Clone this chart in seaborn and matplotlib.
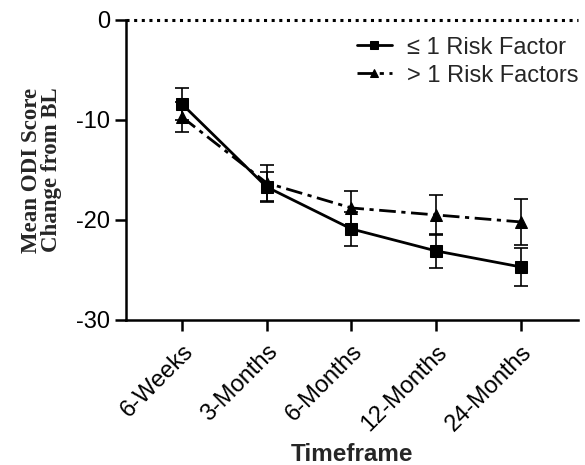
import matplotlib
matplotlib.use("Agg")
import matplotlib.pyplot as plt
import seaborn as sns
import pandas as pd
import numpy as np

timepoints = ["6-Weeks", "3-Months", "6-Months", "12-Months", "24-Months"]
low_mean = [-8.4, -16.7, -20.9, -23.1, -24.7]
low_err = [1.6, 1.5, 1.7, 1.7, 1.9]
high_mean = [-9.7, -16.3, -18.8, -19.5, -20.2]
high_err = [1.5, 1.8, 1.7, 2.0, 2.3]
labels = ["\u2264 1 Risk Factor", "> 1 Risk Factors"]

sns.set_theme(style="ticks")
plt.rcParams['font.family'] = ['Liberation Sans', 'DejaVu Sans']

df = pd.DataFrame({
    "Timeframe": timepoints * 2,
    "Value": low_mean + high_mean,
    "Group": [labels[0]] * 5 + [labels[1]] * 5,
})

fig = plt.figure(figsize=(5.85, 4.65), dpi=100)
ax = fig.add_axes([0.2154, 0.312, 0.772, 0.645])

ax.axhline(0, color="black", lw=2.2, ls=(0, (1, 1.5)), zorder=1, clip_on=False)

xs = np.arange(len(timepoints))
ax.errorbar(xs, low_mean, yerr=low_err, fmt="none", ecolor="black", elinewidth=1.2, capsize=4.7, capthick=1.2, zorder=2)
ax.errorbar(xs, high_mean, yerr=high_err, fmt="none", ecolor="black", elinewidth=1.2, capsize=4.7, capthick=1.2, zorder=2)

sns.lineplot(data=df, x="Timeframe", y="Value", hue="Group", style="Group",
             palette=["black", "black"], markers=["s", "^"],
             dashes=[(None, None), (6, 2, 1.5, 2)], markersize=9, linewidth=2,
             markeredgecolor="black", ax=ax, sort=False, zorder=3)

ax.set_xlim(-0.66, 4.67)
ax.set_ylim(-30, 0)
ax.set_yticks([0, -10, -20, -30])
ax.set_yticklabels(["0", "-10", "-20", "-30"])
ax.set_xticks(xs)
ax.set_xticklabels(timepoints, rotation=45, ha="right", rotation_mode="anchor")

for s in ["top", "right"]:
    ax.spines[s].set_visible(False)
for s in ["left", "bottom"]:
    ax.spines[s].set_linewidth(1.8)
    ax.spines[s].set_color("black")
ax.tick_params(axis="both", width=1.8, length=8, labelsize=17, color="black", labelcolor="black")
ax.tick_params(axis="x", pad=7)

ax.set_xlabel("Timeframe", fontsize=17.5, fontweight="bold", labelpad=6)
ax.set_ylabel("Mean ODI Score\nChange from BL", fontsize=16.5, fontweight="bold",
              family=["Liberation Serif", "DejaVu Serif"], labelpad=10, linespacing=0.95)

leg = ax.legend(loc="upper right", bbox_to_anchor=(1.05, 1.015), frameon=False,
                fontsize=17, handlelength=1.5, handletextpad=0.65, labelspacing=0.25,
                markerscale=0.7)

fig.savefig("out.png", dpi=100)
